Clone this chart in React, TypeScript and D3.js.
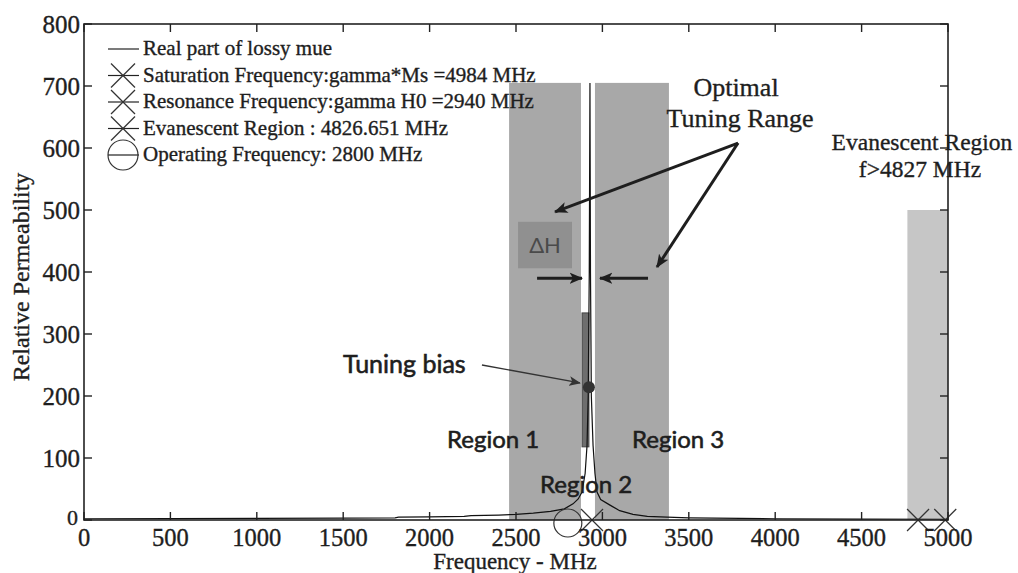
import React from "react";
import * as d3 from "d3";

// ---- data ----
const freq = [0, 500, 1000, 1500, 1800, 1820, 2000, 2200, 2240, 2400, 2500, 2600, 2700, 2780, 2830, 2860, 2882, 2900, 2911, 2918, 2924, 2928, 2931, 2936, 2946, 2957, 2969, 2990, 3044, 3100, 3177, 3260, 3374, 3500, 3800, 4000, 4500, 5000];
const mu = [2, 2.2, 2.5, 3, 3.5, 4.5, 5, 6, 7, 8, 9, 11, 14, 18, 26, 34, 45, 75, 120, 200, 400, 705, 400, 200, 120, 75, 45, 33, 24, 15, 9, 6, 4.5, 3.5, 2.5, 2, 1.5, 1.2];

const xTicks = [0, 500, 1000, 1500, 2000, 2500, 3000, 3500, 4000, 4500, 5000];
const yTicks = [0, 100, 200, 300, 400, 500, 600, 700, 800];

const regionStart = [2460, 2957];
const regionEnd = [2876, 3385];
const regionTop = 705;
const evanStart = 4765;
const evanEnd = 5000;
const evanTop = 500;

const crossFreqs = [2940, 4826.651, 4984];
const operatingFreq = 2800;

const legendLabels = [
  "Real part of lossy mue",
  "Saturation Frequency:gamma*Ms =4984 MHz",
  "Resonance Frequency:gamma H0 =2940 MHz",
  "Evanescent Region : 4826.651 MHz",
  "Operating Frequency: 2800 MHz",
];
const legendKinds = ["line", "x", "x", "x", "o"];

// annotation anchors (data units)
const biasBar = { f0: 2882, f1: 2922, v0: 118, v1: 334 };
const biasPoint = { f: 2922, v: 214 };
const dHBox = { f0: 2512, f1: 2824, v0: 406, v1: 481 };

const W = 1018, H = 573;
const M = { left: 84, right: 948, top: 24, bottom: 520 };

export default function App() {
  const x = d3.scaleLinear().domain([0, 5000]).range([M.left, M.right]);
  const y = d3.scaleLinear().domain([0, 800]).range([M.bottom, M.top]);
  const line = d3
    .line<number>()
    .x((_, i) => x(freq[i]))
    .y((d) => y(d));
  const serif = "'Liberation Serif', 'Times New Roman', serif";
  const sans = "Lato, 'Noto Sans', sans-serif";
  const ink = "#1e1e1e";
  const serifStyle = { fontFamily: serif, fill: ink, stroke: ink, strokeWidth: 0.35 } as const;
  const sansStyle = { fontFamily: sans, fill: ink, stroke: ink, strokeWidth: 0.6 } as const;

  const cross = (cx: number, cy: number, s: number, key: string) => (
    <g key={key} stroke="#333" strokeWidth={1.2}>
      <line x1={cx - s} y1={cy - s} x2={cx + s} y2={cy + s} />
      <line x1={cx - s} y1={cy + s} x2={cx + s} y2={cy - s} />
    </g>
  );

  return (
    <div style={{ position: "absolute", left: 0, top: 0 }}>
      <svg width={W} height={H} style={{ display: "block", background: "#fff" }}>
        <defs>
          <marker id="ah" viewBox="0 0 12 10" refX="11" refY="5" markerWidth="4.5" markerHeight="4" orient="auto" markerUnits="strokeWidth">
            <path d="M0,0 L12,5 L0,10 L3,5 z" fill={ink} />
          </marker>
          <marker id="ahs" viewBox="0 0 12 10" refX="11" refY="5" markerWidth="9" markerHeight="8" orient="auto" markerUnits="strokeWidth">
            <path d="M0,0 L12,5 L0,10 L3,5 z" fill="#333" />
          </marker>
        </defs>

        {/* shaded regions */}
        {regionStart.map((s, i) => (
          <rect key={"r" + i} x={x(s)} y={y(regionTop)} width={x(regionEnd[i]) - x(s)} height={y(0) - y(regionTop)} fill="#a8a8a8" />
        ))}
        <rect x={x(evanStart)} y={y(evanTop)} width={x(evanEnd) - x(evanStart)} height={y(0) - y(evanTop)} fill="#c6c6c6" />

        {/* delta H box */}
        <rect x={x(dHBox.f0)} y={y(dHBox.v1)} width={x(dHBox.f1) - x(dHBox.f0)} height={y(dHBox.v0) - y(dHBox.v1)} fill="#909090" />
        <text x={(x(dHBox.f0) + x(dHBox.f1)) / 2} y={y(dHBox.v0) - 15} textAnchor="middle" fontFamily={sans} fontSize={22} fill="#4a4a4a">ΔH</text>

        {/* tuning bias bar */}
        <rect x={x(biasBar.f0)} y={y(biasBar.v1)} width={x(biasBar.f1) - x(biasBar.f0)} height={y(biasBar.v0) - y(biasBar.v1)} fill="#6e6e6e" stroke="#444" strokeWidth={1} />

        {/* curve */}
        <path d={line(mu) || ""} fill="none" stroke="#111" strokeWidth={1.2} />

        {/* markers on axis */}
        <circle cx={x(operatingFreq)} cy={y(0) + 3} r={14} fill="none" stroke="#333" strokeWidth={1.2} />
        {crossFreqs.map((f, i) => cross(x(f), y(0), 11, "c" + i))}

        {/* tuning bias point */}
        <circle cx={x(biasPoint.f)} cy={y(biasPoint.v)} r={6} fill="#333" />

        {/* axes box */}
        <rect x={M.left} y={M.top} width={M.right - M.left} height={M.bottom - M.top} fill="none" stroke="#222" strokeWidth={1.6} />
        {xTicks.map((t) => (
          <g key={"xt" + t} stroke="#222" strokeWidth={1.4}>
            <line x1={x(t)} x2={x(t)} y1={M.bottom} y2={M.bottom - 8} />
            <line x1={x(t)} x2={x(t)} y1={M.top} y2={M.top + 8} />
          </g>
        ))}
        {yTicks.map((t) => (
          <g key={"yt" + t} stroke="#222" strokeWidth={1.4}>
            <line x1={M.left} x2={M.left + 8} y1={y(t)} y2={y(t)} />
            <line x1={M.right} x2={M.right - 8} y1={y(t)} y2={y(t)} />
          </g>
        ))}
        {xTicks.map((t) => (
          <text key={"xl" + t} x={x(t)} y={546} textAnchor="middle" fontSize={24.5} {...serifStyle}>{t}</text>
        ))}
        {yTicks.map((t) => (
          <text key={"yl" + t} x={t === 0 ? M.left - 6 : M.left - 4} y={t === 0 ? y(t) - 3 : y(t)} dy="0.35em" textAnchor="end" fontSize={t === 0 ? 22 : 25} {...serifStyle}>{t}</text>
        ))}
        <text x={515} y={569} textAnchor="middle" fontSize={23} {...serifStyle}>Frequency - MHz</text>
        <text transform="translate(29,277) rotate(-90)" textAnchor="middle" fontSize={24} {...serifStyle}>Relative Permeability</text>

        {/* legend */}
        {legendLabels.map((lab, i) => {
          const cy = 49 + i * 26.5;
          const k = legendKinds[i];
          return (
            <g key={"lg" + i}>
              <line x1={108} x2={139} y1={cy} y2={cy} stroke="#222" strokeWidth={1.2} />
              {k === "x" && cross(123, cy, 12, "lx" + i)}
              {k === "o" && <circle cx={123} cy={cy} r={15} fill="none" stroke="#333" strokeWidth={1.2} />}
              <text x={143} y={cy + 6} fontSize={21} {...serifStyle}>{lab}</text>
            </g>
          );
        })}

        {/* annotations */}
        <text x={736} y={96} textAnchor="middle" fontSize={26} {...serifStyle}>Optimal</text>
        <text x={740} y={127} textAnchor="middle" fontSize={26} {...serifStyle}>Tuning Range</text>
        <text x={922} y={150} textAnchor="middle" fontSize={23.5} {...serifStyle}>Evanescent Region</text>
        <text x={920} y={177} textAnchor="middle" fontSize={23.5} {...serifStyle}>f&gt;4827 MHz</text>

        <line x1={x(3785)} y1={y(608)} x2={x(2726)} y2={y(497)} stroke={ink} strokeWidth={3} markerEnd="url(#ah)" />
        <line x1={x(3785)} y1={y(608)} x2={x(3316)} y2={y(408)} stroke={ink} strokeWidth={3} markerEnd="url(#ah)" />
        <line x1={x(2622)} y1={y(390)} x2={x(2882)} y2={y(390)} stroke={ink} strokeWidth={3} markerEnd="url(#ah)" />
        <line x1={x(3264)} y1={y(390)} x2={x(2986)} y2={y(390)} stroke={ink} strokeWidth={3} markerEnd="url(#ah)" />
        <line x1={x(2303)} y1={y(250)} x2={x(2870)} y2={y(221)} stroke="#333" strokeWidth={1.3} markerEnd="url(#ahs)" />

        <text x={343} y={373} fontSize={25} {...sansStyle}>Tuning bias</text>
        <text x={447} y={448} fontSize={24} {...sansStyle}>Region 1</text>
        <text x={632} y={448} fontSize={24} {...sansStyle}>Region 3</text>
        <text x={540} y={493} fontSize={24} {...sansStyle}>Region 2</text>
      </svg>
    </div>
  );
}
